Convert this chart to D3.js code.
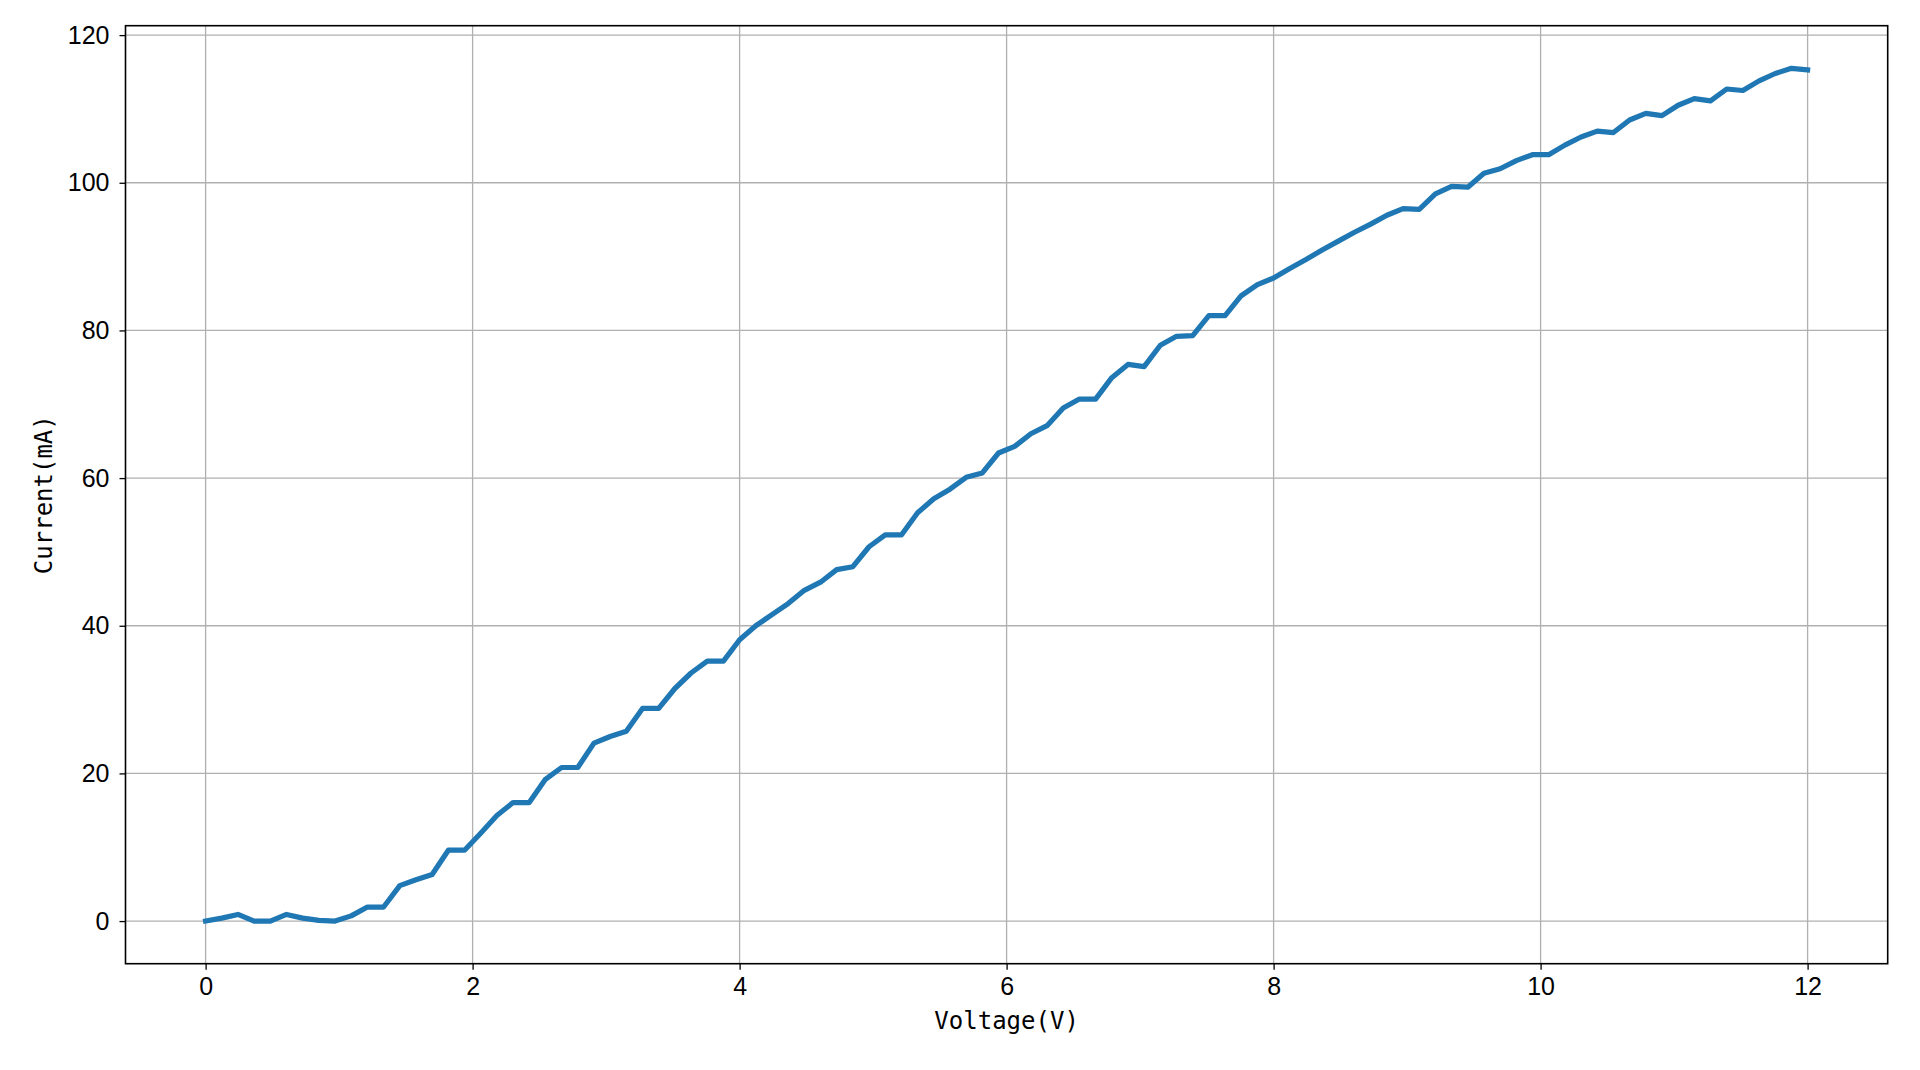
<!DOCTYPE html>
<html>
<head>
<meta charset="utf-8">
<script src="https://cdn.jsdelivr.net/npm/d3@7"></script>
<style>
  html, body { margin: 0; padding: 0; background: #fff; }
  svg { display: block; }
</style>
</head>
<body>
<svg id="chart" width="1920" height="1070"></svg>
<script>
// ---- data ----
const voltageStart = 0;
const voltageEnd = 12;
const pointCount = 100;
const current = [
  0, 0.4, 0.9, 0, 0, 0.9, 0.4, 0.1, 0, 0.7,
  1.9, 1.9, 4.8, 5.6, 6.3, 9.6, 9.6, 11.9, 14.3, 16.05,
  16.05, 19.2, 20.8, 20.8, 24.1, 25.0, 25.7, 28.8, 28.8, 31.5,
  33.6, 35.2, 35.2, 38.1, 40.0, 41.5, 43.0, 44.8, 45.9, 47.6,
  48.0, 50.7, 52.3, 52.3, 55.3, 57.2, 58.5, 60.1, 60.7, 63.4,
  64.3, 66.0, 67.1, 69.5, 70.7, 70.7, 73.6, 75.4, 75.1, 78.0,
  79.2, 79.3, 82.0, 82.0, 84.7, 86.2, 87.1, 88.4, 89.6, 90.9,
  92.1, 93.3, 94.4, 95.6, 96.5, 96.4, 98.5, 99.5, 99.4, 101.3,
  101.9, 103.0, 103.8, 103.8, 105.1, 106.2, 107.0, 106.8, 108.5, 109.4,
  109.1, 110.5, 111.4, 111.1, 112.7, 112.5, 113.8, 114.8, 115.5, 115.3
];
const xTicks = [0, 2, 4, 6, 8, 10, 12];
const yTicks = [0, 20, 40, 60, 80, 100, 120];
const xLabel = "Voltage(V)";
const yLabel = "Current(mA)";

(function () {
// voltage samples are evenly spaced from start to end (as in the original sweep)
const voltage = d3.range(pointCount).map(i => voltageStart + i * (voltageEnd - voltageStart) / (pointCount - 1));
const data = voltage.map((v, i) => ({ v, c: current[i] }));

// ---- layout ----
const svg = d3.select("#chart");
const pL = 125.5, pT = 25.7, pR = 1887.7, pB = 963.7;

const xExt = d3.extent(voltage), yExt = d3.extent(current);
const xPad = (xExt[1] - xExt[0]) * 0.05, yPad = (yExt[1] - yExt[0]) * 0.05;
const x = d3.scaleLinear().domain([xExt[0] - xPad, xExt[1] + xPad]).range([pL, pR]);
const y = d3.scaleLinear().domain([yExt[0] - yPad, yExt[1] + yPad]).range([pB, pT]);

// grid
const grid = svg.append("g");
grid.selectAll("line.gx").data(xTicks).enter().append("line").attr("class", "gx")
  .attr("x1", d => x(d)).attr("x2", d => x(d)).attr("y1", pT).attr("y2", pB)
  .attr("stroke", "#b0b0b0").attr("stroke-width", 1.3);
grid.selectAll("line.gy").data(yTicks).enter().append("line").attr("class", "gy")
  .attr("y1", d => y(d)).attr("y2", d => y(d)).attr("x1", pL).attr("x2", pR)
  .attr("stroke", "#b0b0b0").attr("stroke-width", 1.3);

// line
const line = d3.line().x(d => x(d.v)).y(d => y(d.c));
svg.append("path").datum(data)
  .attr("d", line)
  .attr("fill", "none")
  .attr("stroke", "#1f77b4")
  .attr("stroke-width", 5.2)
  .attr("stroke-linejoin", "round")
  .attr("stroke-linecap", "square");

// axes
const xAxis = d3.axisBottom(x).tickValues(xTicks).tickSize(6).tickPadding(8).tickFormat(d3.format("d"));
const yAxis = d3.axisLeft(y).tickValues(yTicks).tickSize(6).tickPadding(10).tickFormat(d3.format("d"));

const gx = svg.append("g").attr("transform", `translate(0,${pB})`).call(xAxis);
const gy = svg.append("g").attr("transform", `translate(${pL},0)`).call(yAxis);
[gx, gy].forEach(g => {
  g.attr("font-family", null).attr("font-size", null);
  g.select(".domain").remove();
  g.selectAll(".tick line").attr("stroke", "#000").attr("stroke-width", 1.3);
  g.selectAll(".tick text")
    .style("font-family", '"Liberation Sans", Arial, sans-serif')
    .style("font-size", "25px")
    .attr("fill", "#000");
});

// frame
svg.append("rect")
  .attr("x", pL).attr("y", pT).attr("width", pR - pL).attr("height", pB - pT)
  .attr("fill", "none").attr("stroke", "#000").attr("stroke-width", 1.6);

// axis labels
svg.append("text")
  .attr("x", (pL + pR) / 2).attr("y", 1029)
  .attr("text-anchor", "middle")
  .style("font-family", '"DejaVu Sans Mono", monospace').style("font-size", "24px")
  .attr("fill", "#000")
  .text(xLabel);
svg.append("text")
  .attr("transform", `translate(52,${(pT + pB) / 2}) rotate(-90)`)
  .attr("text-anchor", "middle")
  .style("font-family", '"DejaVu Sans Mono", monospace').style("font-size", "24px")
  .attr("fill", "#000")
  .text(yLabel);
})();
</script>
</body>
</html>
